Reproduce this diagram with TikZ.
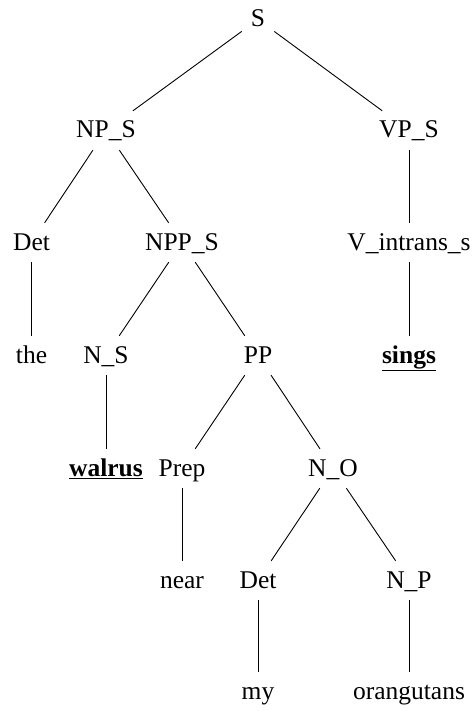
\documentclass[tikz,border=0pt]{standalone}
\usepackage{fontspec}
\setmainfont{Liberation Serif}
\begin{document}
\begin{tikzpicture}[x=1pt,y=1pt,
  lbl/.style={anchor=base, font=\fontsize{25.5}{30}\selectfont, text height=17pt, text depth=2pt, inner xsep=9pt, inner ysep=10pt},
  edge/.style={draw=black, line width=0.9pt}]
\useasboundingbox (0,0) rectangle (475,-711);
% columns
\def\cA{31.5}\def\cB{106}\def\cC{182}\def\cD{258}\def\cE{333}\def\cF{409}
\node[lbl] (S) at (\cD,-27) {S};
\node[lbl] (NPS) at (\cB,-138) {NP\_S};
\node[lbl] (VPS) at (\cF,-138) {VP\_S};
\node[lbl] (Det1) at (\cA,-250) {Det};
\node[lbl] (NPPS) at (\cC,-250) {NPP\_S};
\node[lbl] (Vin) at (\cF,-250) {V\_intrans\_s};
\node[lbl] (the) at (\cA,-363) {the};
\node[lbl] (NS) at (\cB,-363) {N\_S};
\node[lbl] (PP) at (\cD,-363) {PP};
\node[lbl] (sings) at (\cF,-363) {\underline{\textbf{sings}}};
\node[lbl] (walrus) at (\cB,-476) {\underline{\textbf{walrus}}};
\node[lbl] (Prep) at (\cC,-476) {Prep};
\node[lbl] (NO) at (\cE,-476) {N\_O};
\node[lbl] (near) at (\cC,-588) {near};
\node[lbl] (Det2) at (\cD,-588) {Det};
\node[lbl] (NP) at (\cF,-588) {N\_P};
\node[lbl] (my) at (\cD,-699) {my};
\node[lbl] (orang) at (\cF,-699) {orangutans};
\path[edge] (S) -- (NPS);
\path[edge] (S) -- (VPS);
\path[edge] (NPS) -- (Det1);
\path[edge] (NPS) -- (NPPS);
\path[edge] (VPS) -- (Vin);
\path[edge] (Det1) -- (the);
\path[edge] (NPPS) -- (NS);
\path[edge] (NPPS) -- (PP);
\path[edge] (Vin) -- (sings);
\path[edge] (NS) -- (walrus);
\path[edge] (PP) -- (Prep);
\path[edge] (PP) -- (NO);
\path[edge] (Prep) -- (near);
\path[edge] (NO) -- (Det2);
\path[edge] (NO) -- (NP);
\path[edge] (Det2) -- (my);
\path[edge] (NP) -- (orang);
\end{tikzpicture}
\end{document}
